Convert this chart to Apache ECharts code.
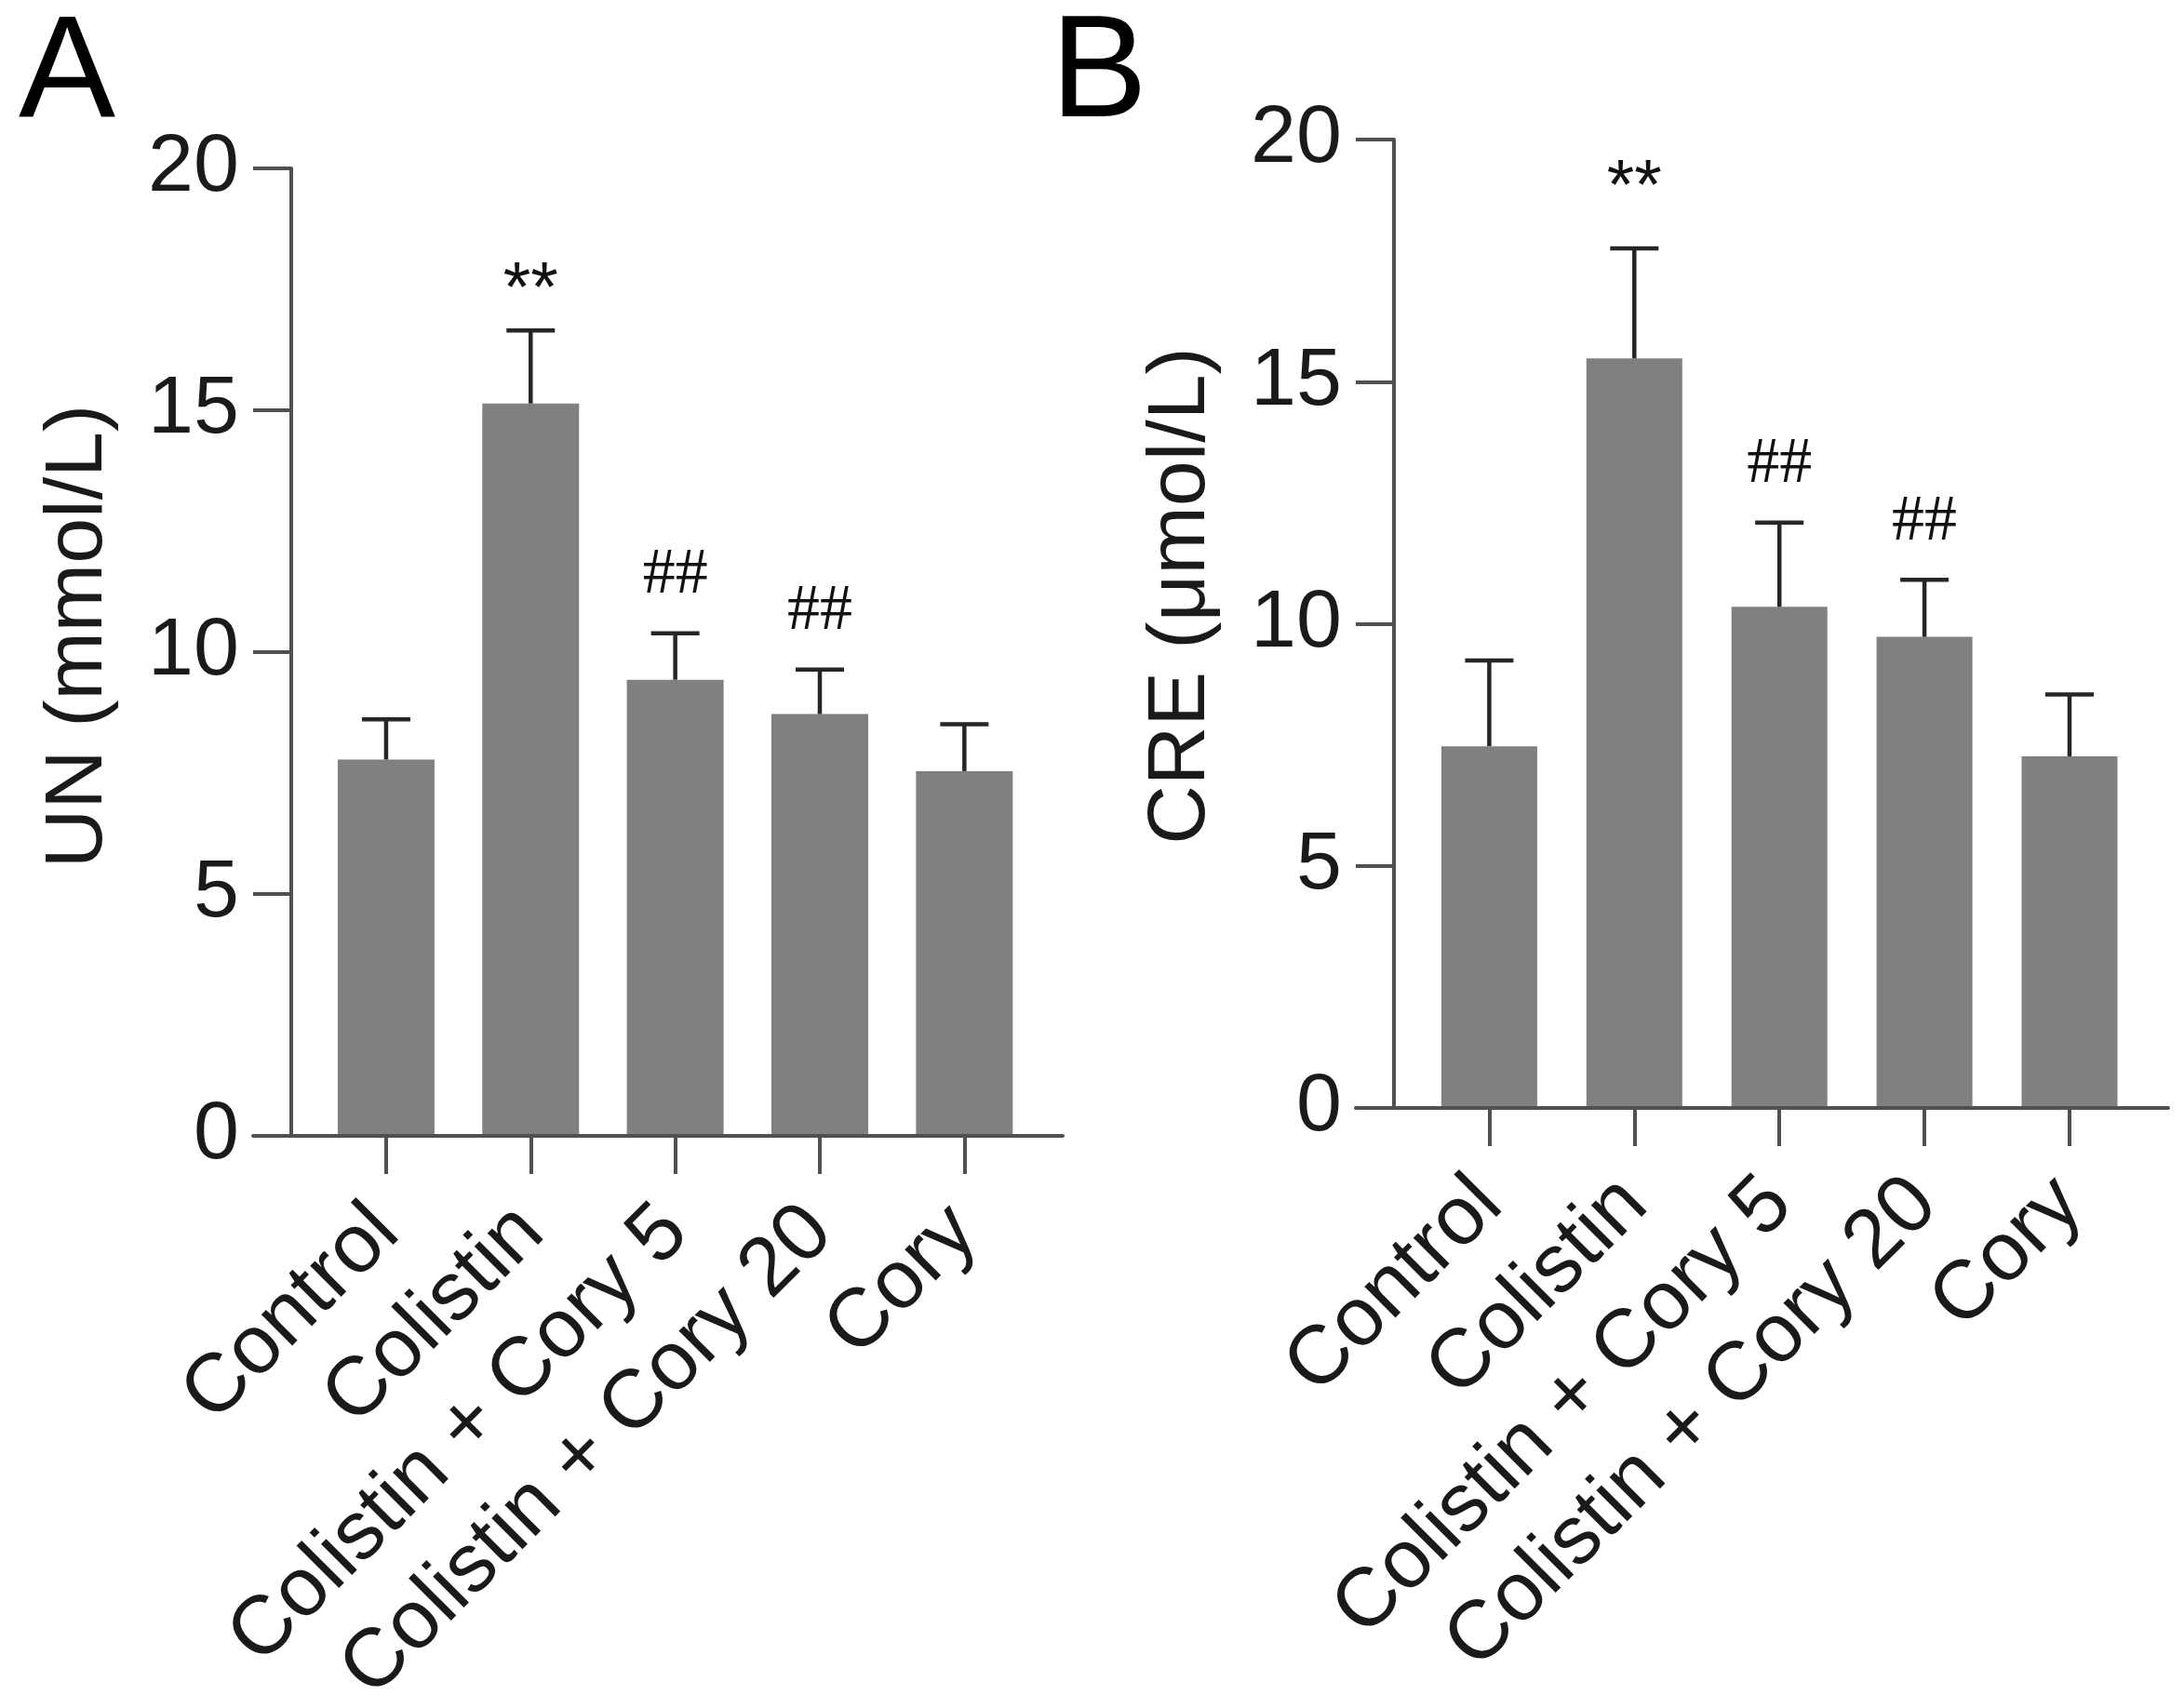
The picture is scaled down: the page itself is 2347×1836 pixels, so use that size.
<!DOCTYPE html>
<html>
<head>
<meta charset="utf-8">
<title>UN / CRE</title>
<script src="https://cdn.jsdelivr.net/npm/echarts@6.0.0/dist/echarts.min.js"></script>
<style>
    html, body { margin: 0; padding: 0; background: #fff; }
    #chart { width: 2347px; height: 1836px; }
</style>
</head>
<body>
<div id="chart"></div>
<script>
// 数据
var categories = ['Control', 'Colistin', 'Colistin + Cory 5', 'Colistin + Cory 20', 'Cory'];
var unMean = [7.78, 15.14, 9.43, 8.72, 7.54];
var unSd = [0.83, 1.51, 0.96, 0.92, 0.97];
var unMarks = ['', '**', '##', '##', ''];
var creMean = [7.47, 15.48, 10.35, 9.73, 7.26];
var creSd = [1.77, 2.27, 1.74, 1.18, 1.28];
var creMarks = ['', '**', '##', '##', ''];
var yTicks = [0, 5, 10, 15, 20];

(function () {
    var myChart = echarts.init(document.getElementById('chart'));
    var font = 'Liberation Sans';
    var axisColor = '#505050';
    var textColor = '#1a1a1a';
    var catIdx = categories.map(function (c, i) { return i; });

    function barData(mean) {
        return mean.map(function (v, i) { return [i, v]; });
    }
    function errData(mean, sd, marks) {
        return mean.map(function (v, i) { return [i, v, sd[i], marks[i]]; });
    }

    // 误差线 + 显著性标记
    function renderErr(marks, starGap) {
        return function (params, api) {
            var i = api.value(0);
            var m = api.value(1);
            var s = api.value(2);
            var base = api.coord([i, m]);
            var top = api.coord([i, m + s]);
            var mark = marks[params.dataIndex];
            var style = { stroke: '#262626', lineWidth: 4.5 };
            var children = [
                { type: 'line', shape: { x1: base[0], y1: base[1], x2: top[0], y2: top[1] }, style: style },
                { type: 'line', shape: { x1: top[0] - 26, y1: top[1], x2: top[0] + 26, y2: top[1] }, style: style }
            ];
            if (mark) {
                var star = mark === '**';
                children.push({
                    type: 'text',
                    x: top[0],
                    y: top[1] - (star ? starGap : 62),
                    style: {
                        text: mark,
                        fill: '#111',
                        font: (star ? '76px "Liberation Sans"' : '70px "Liberation Serif"'),
                        align: 'center',
                        verticalAlign: 'middle'
                    }
                });
            }
            return { type: 'group', children: children };
        };
    }

    function xAxis(gridIndex) {
        return {
            type: 'value',
            gridIndex: gridIndex,
            min: -0.92,
            max: 4.68,
            z: 5,
            splitLine: { show: false },
            axisLine: { show: true, lineStyle: { color: axisColor, width: 4 } },
            axisTick: {
                show: true,
                customValues: catIdx,
                length: 41,
                lineStyle: { color: axisColor, width: 4 }
            },
            axisLabel: {
                customValues: catIdx,
                rotate: 45,
                margin: 90,
                fontSize: 89,
                fontFamily: font,
                color: textColor,
                formatter: function (v) { return categories[Math.round(v)]; }
            }
        };
    }

    function yAxis(gridIndex, name, pad) {
        return {
            type: 'value',
            gridIndex: gridIndex,
            min: yTicks[0],
            max: yTicks[yTicks.length - 1],
            interval: 5,
            offset: -41,
            z: 5,
            name: name,
            nameLocation: 'middle',
            nameGap: 184,
            nameTextStyle: { fontSize: 88, fontFamily: font, color: textColor, padding: [0, 0, 0, pad] },
            splitLine: { show: false },
            axisLine: { show: true, onZero: false, lineStyle: { color: axisColor, width: 4 } },
            axisTick: { show: true, length: 41, lineStyle: { color: axisColor, width: 4 } },
            axisLabel: { margin: 56, fontSize: 88, fontFamily: font, color: textColor }
        };
    }

    var option = {
        backgroundColor: '#fff',
        animation: false,
        title: [
            { text: 'A', left: 20, top: 4, padding: 0, textStyle: { fontSize: 156, fontWeight: 'normal', fontFamily: font, color: '#000' } },
            { text: 'B', left: 1129, top: 4, padding: 0, textStyle: { fontSize: 156, fontWeight: 'normal', fontFamily: font, color: '#000' } }
        ],
        grid: [
            { left: 272, top: 181, width: 870, height: 1040, outerBoundsMode: 'none' },
            { left: 1457, top: 150, width: 873, height: 1041, outerBoundsMode: 'none' }
        ],
        xAxis: [xAxis(0), xAxis(1)],
        yAxis: [yAxis(0, 'UN (mmol/L)', 34), yAxis(1, 'CRE (μmol/L)', 60)],
        series: [
            {
                type: 'bar', xAxisIndex: 0, yAxisIndex: 0,
                barWidth: 104,
                itemStyle: { color: '#808080' },
                data: barData(unMean)
            },
            {
                type: 'custom', xAxisIndex: 0, yAxisIndex: 0, z: 4,
                renderItem: renderErr(unMarks, 42),
                data: errData(unMean, unSd, unMarks)
            },
            {
                type: 'bar', xAxisIndex: 1, yAxisIndex: 1,
                barWidth: 103,
                itemStyle: { color: '#808080' },
                data: barData(creMean)
            },
            {
                type: 'custom', xAxisIndex: 1, yAxisIndex: 1, z: 4,
                renderItem: renderErr(creMarks, 64),
                data: errData(creMean, creSd, creMarks)
            }
        ]
    };
    myChart.setOption(option);
    window.addEventListener('resize', function () {
        myChart.resize();
    });
})();
</script>
</body>
</html>
